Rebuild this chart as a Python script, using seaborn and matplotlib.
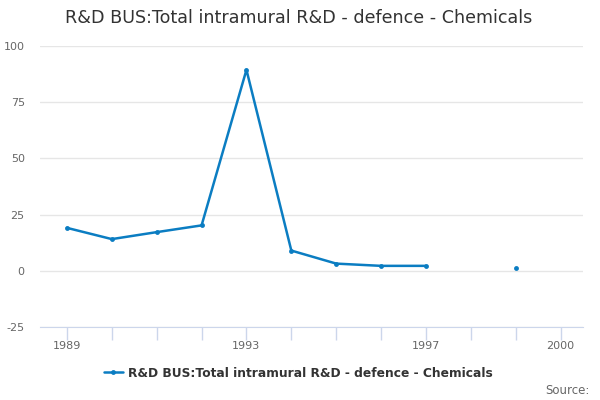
import numpy as np
import pandas as pd
import matplotlib
matplotlib.use("Agg")
import matplotlib.pyplot as plt
from matplotlib.lines import Line2D
import seaborn as sns

# donnees
years = [1989, 1990, 1991, 1992, 1993, 1994, 1995, 1996, 1997, 1998, 1999, 2000]
values = [19.1, 14.1, 17.2, 20.2, 89.4, 9.0, 3.2, 2.2, 2.2, np.nan, 1.2, np.nan]
tick_years = [1989, 1993, 1997, 2000]
series_name = "R&D BUS:Total intramural R&D - defence - Chemicals"
title = "R&D BUS:Total intramural R&D - defence - Chemicals"

df = pd.DataFrame({"year": years, "value": values})
# segments separes par les valeurs manquantes
df["seg"] = df["value"].isna().cumsum()
df = df.dropna()

sns.set_style("white")
plt.rcParams['font.family'] = ['DejaVu Sans']
plt.rcParams['axes.unicode_minus'] = False

color = "#0b7dc2"
fig = plt.figure(figsize=(6, 4), dpi=100)
ax = fig.add_axes([0.0667, 0.1825, 0.905, 0.7025])

sns.lineplot(data=df, x="year", y="value", units="seg", estimator=None,
             color=color, linewidth=1.8, marker="o", markersize=3.5,
             markeredgewidth=0, ax=ax)

ax.set_xlim(1988.4, 2000.5)
ax.set_ylim(-25, 100)
ax.set_yticks([-25, 0, 25, 50, 75, 100])
ax.set_xticks(tick_years)
ax.set_xticks(years, minor=True)
ax.grid(axis="y", color="#e6e6e6", linewidth=1)
ax.set_axisbelow(True)
for s in ["top", "right", "left"]:
    ax.spines[s].set_visible(False)
ax.spines["bottom"].set_color("#ccd6eb")
ax.tick_params(axis="x", which="minor", bottom=True, length=9, color="#ccd6eb", width=1)
ax.tick_params(axis="x", which="major", bottom=True, length=9, color="#ccd6eb", width=1,
               pad=1, labelsize=8, labelcolor="#666666")
ax.tick_params(axis="y", length=0, labelsize=8, labelcolor="#666666", pad=11)
ax.set_xlabel("")
ax.set_ylabel("")

fig.text(0.498, 0.955, title, ha="center", va="center", fontsize=12.6, color="#333333")

handle = Line2D([], [], color=color, linewidth=1.8, marker="o", markersize=3.5,
                markeredgewidth=0)
fig.legend([handle], [series_name], loc="center", bbox_to_anchor=(0.497, 0.067),
           frameon=False, handlelength=1.6, handletextpad=0.4,
           prop={"size": 8.8, "weight": "bold"}, labelcolor="#333333")
fig.text(0.982, 0.025, "Source:", ha="right", va="center", fontsize=8.5, color="#666666")

fig.savefig("out.png", dpi=100)
